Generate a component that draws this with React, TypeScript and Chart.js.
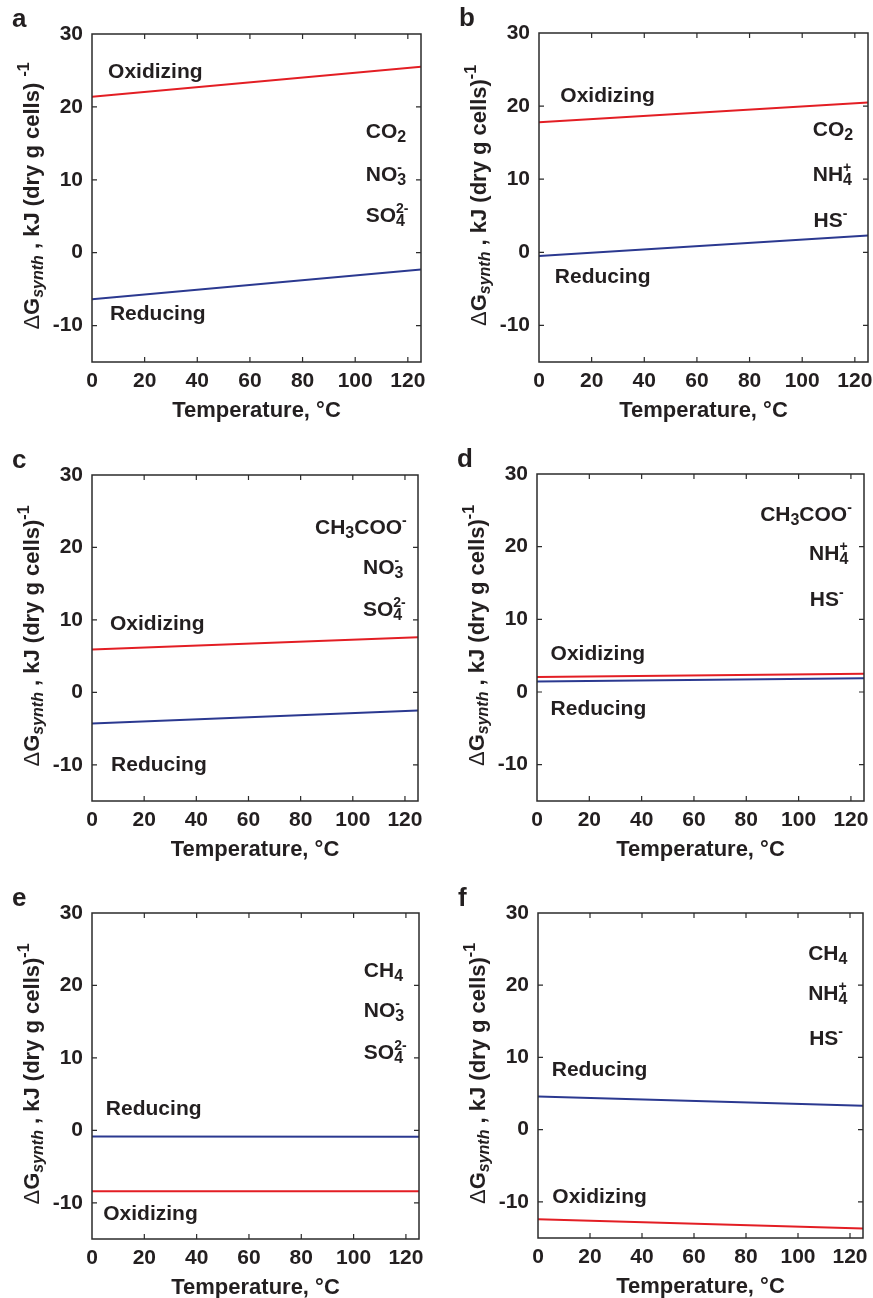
import React, { useEffect, useRef } from 'react';
import { Chart, registerables } from 'chart.js';

Chart.register(...registerables);

// ---------- data ----------
const temperature = [0, 125];
const xTickValues = [0, 20, 40, 60, 80, 100, 120];
const yTickValues = [-10, 0, 10, 20, 30];

const oxidizingA = [21.4, 25.5];
const reducingA = [-6.4, -2.3];
const oxidizingB = [17.8, 20.5];
const reducingB = [-0.5, 2.3];
const oxidizingC = [5.9, 7.6];
const reducingC = [-4.3, -2.5];
const oxidizingD = [2.05, 2.5];
const reducingD = [1.45, 1.9];
const oxidizingE = [-8.4, -8.4];
const reducingE = [-0.85, -0.9];
const oxidizingF = [-12.4, -13.7];
const reducingF = [4.6, 3.3];

// ---------- styles ----------
const FONT = '"Liberation Sans", Arial, Helvetica, sans-serif';
const TEXT = '#231f20';
const RED = '#e31e24';
const BLUE = '#2b3990';
const FRAME = '#2b2b2b';
const PAD_L = 92;
const PAD_T = 34;
const PAD_R = 12;
const PAD_B = 64;

type Part = { t?: string; sub?: string; sup?: string; light?: boolean; italicSub?: boolean };

const CO2: Part[] = [{ t: 'CO' }, { sub: '2' }];
const NO3: Part[] = [{ t: 'NO' }, { sub: '3', sup: '-' }];
const SO4: Part[] = [{ t: 'SO' }, { sub: '4', sup: '2-' }];
const NH4: Part[] = [{ t: 'NH' }, { sub: '4', sup: '+' }];
const HS: Part[] = [{ t: 'HS' }, { sup: '-' }];
const CH3COO: Part[] = [{ t: 'CH' }, { sub: '3' }, { t: 'COO' }, { sup: '-' }];
const CH4: Part[] = [{ t: 'CH' }, { sub: '4' }];

const yTitleSpaced: Part[] = [
  { t: '\u0394', light: true },
  { t: 'G' },
  { sub: 'synth', italicSub: true },
  { t: ' , kJ (dry g cells) ' },
  { sup: '-1' },
];
const yTitleTight: Part[] = [
  { t: '\u0394', light: true },
  { t: 'G' },
  { sub: 'synth', italicSub: true },
  { t: ' , kJ (dry g cells)' },
  { sup: '-1' },
];

type Label = { parts: Part[]; x: number; y: number };
type PanelCfg = {
  letter: string;
  rect: { l: number; t: number; r: number; b: number };
  ox: number[];
  red: number[];
  oxLabel: { x: number; y: number };
  redLabel: { x: number; y: number };
  chem: Label[];
  yTitle: Part[];
};

const panels: PanelCfg[] = [
  {
    letter: 'a', rect: { l: 92, t: 34, r: 421, b: 362 }, ox: oxidizingA, red: reducingA,
    oxLabel: { x: 6.1, y: 23.9 }, redLabel: { x: 6.8, y: -9.3 },
    chem: [{ parts: CO2, x: 104, y: 15.7 }, { parts: NO3, x: 104, y: 9.9 }, { parts: SO4, x: 104, y: 4.15 }],
    yTitle: yTitleSpaced,
  },
  {
    letter: 'b', rect: { l: 539, t: 33, r: 868, b: 362 }, ox: oxidizingB, red: reducingB,
    oxLabel: { x: 8.1, y: 20.5 }, redLabel: { x: 6.0, y: -4.2 },
    chem: [{ parts: CO2, x: 104, y: 15.9 }, { parts: NH4, x: 104, y: 9.7 }, { parts: HS, x: 104.3, y: 3.5 }],
    yTitle: yTitleTight,
  },
  {
    letter: 'c', rect: { l: 92, t: 475, r: 418, b: 801 }, ox: oxidizingC, red: reducingC,
    oxLabel: { x: 6.9, y: 8.6 }, redLabel: { x: 7.3, y: -10.9 },
    chem: [{ parts: CH3COO, x: 85.5, y: 21.8 }, { parts: NO3, x: 103.9, y: 16.3 }, { parts: SO4, x: 103.9, y: 10.5 }],
    yTitle: yTitleTight,
  },
  {
    letter: 'd', rect: { l: 537, t: 474, r: 864, b: 801 }, ox: oxidizingD, red: reducingD,
    oxLabel: { x: 5.2, y: 4.35 }, redLabel: { x: 5.2, y: -3.1 },
    chem: [{ parts: CH3COO, x: 85.3, y: 23.5 }, { parts: NH4, x: 104, y: 18.1 }, { parts: HS, x: 104.3, y: 11.9 }],
    yTitle: yTitleTight,
  },
  {
    letter: 'e', rect: { l: 92, t: 913, r: 419, b: 1239 }, ox: oxidizingE, red: reducingE,
    oxLabel: { x: 4.3, y: -12.4 }, redLabel: { x: 5.3, y: 2.16 },
    chem: [{ parts: CH4, x: 103.9, y: 21.2 }, { parts: NO3, x: 103.9, y: 15.6 }, { parts: SO4, x: 103.9, y: 9.9 }],
    yTitle: yTitleTight,
  },
  {
    letter: 'f', rect: { l: 538, t: 913, r: 863, b: 1238 }, ox: oxidizingF, red: reducingF,
    oxLabel: { x: 5.5, y: -10.2 }, redLabel: { x: 5.3, y: 7.5 },
    chem: [{ parts: CH4, x: 103.9, y: 23.5 }, { parts: NH4, x: 103.9, y: 17.9 }, { parts: HS, x: 104.3, y: 11.7 }],
    yTitle: yTitleTight,
  },
];

// ---------- rich text ----------
type RichSizes = { main: number; sub: number; sup: number; subOff: number; supOff: number };

function fontStr(size: number, bold: boolean, italic = false) {
  return `${italic ? 'italic ' : ''}${bold ? 'bold ' : ''}${size}px ${FONT}`;
}

function drawRich(
  ctx: CanvasRenderingContext2D,
  parts: Part[],
  x: number,
  y: number,
  align: 'left' | 'center' | 'right',
  s: RichSizes
) {
  const widths = parts.map((p) => {
    if (p.t !== undefined) {
      ctx.font = fontStr(s.main, !p.light);
      return ctx.measureText(p.t).width;
    }
    let w = 0;
    if (p.sub) {
      ctx.font = fontStr(s.sub, true, !!p.italicSub);
      w = Math.max(w, ctx.measureText(p.sub).width);
    }
    if (p.sup) {
      ctx.font = fontStr(s.sup, true);
      w = Math.max(w, ctx.measureText(p.sup).width);
    }
    return w;
  });
  const total = widths.reduce((a, b) => a + b, 0);
  let cx = align === 'left' ? x : align === 'right' ? x - total : x - total / 2;
  ctx.textAlign = 'left';
  ctx.textBaseline = 'alphabetic';
  ctx.fillStyle = TEXT;
  parts.forEach((p, i) => {
    if (p.t !== undefined) {
      ctx.font = fontStr(s.main, !p.light);
      ctx.fillText(p.t, cx, y);
    } else {
      if (p.sub) {
        ctx.font = fontStr(s.sub, true, !!p.italicSub);
        ctx.fillText(p.sub, cx, y + s.subOff);
      }
      if (p.sup) {
        ctx.font = fontStr(s.sup, true);
        ctx.fillText(p.sup, cx, y - s.supOff);
      }
    }
    cx += widths[i];
  });
}

function makePlugin(cfg: PanelCfg) {
  return {
    id: 'panelDecor' + cfg.letter,
    afterDraw(chart: any) {
      const ctx: CanvasRenderingContext2D = chart.ctx;
      const a = chart.chartArea;
      const xs = chart.scales.x;
      const ys = chart.scales.y;
      ctx.save();
      // frame
      ctx.strokeStyle = FRAME;
      ctx.lineWidth = 1.5;
      ctx.strokeRect(a.left, a.top, a.right - a.left, a.bottom - a.top);
      // inward ticks on all four sides
      const TL = 5;
      ctx.lineWidth = 1.2;
      ctx.beginPath();
      xTickValues.forEach((v) => {
        const px = xs.getPixelForValue(v);
        if (px <= a.left + 1 || px >= a.right - 1) return;
        ctx.moveTo(px, a.bottom);
        ctx.lineTo(px, a.bottom - TL);
        ctx.moveTo(px, a.top);
        ctx.lineTo(px, a.top + TL);
      });
      yTickValues.forEach((v) => {
        const py = ys.getPixelForValue(v);
        if (py <= a.top + 1 || py >= a.bottom - 1) return;
        ctx.moveTo(a.left, py);
        ctx.lineTo(a.left + TL, py);
        ctx.moveTo(a.right, py);
        ctx.lineTo(a.right - TL, py);
      });
      ctx.stroke();

      // Oxidizing / Reducing labels
      ctx.fillStyle = TEXT;
      ctx.font = fontStr(21, true);
      ctx.textAlign = 'left';
      ctx.textBaseline = 'alphabetic';
      ctx.fillText('Oxidizing', xs.getPixelForValue(cfg.oxLabel.x), ys.getPixelForValue(cfg.oxLabel.y));
      ctx.fillText('Reducing', xs.getPixelForValue(cfg.redLabel.x), ys.getPixelForValue(cfg.redLabel.y));

      // chemical species
      const chemSizes: RichSizes = { main: 21, sub: 16, sup: 14, subOff: 4, supOff: 9 };
      cfg.chem.forEach((c) => {
        drawRich(ctx, c.parts, xs.getPixelForValue(c.x), ys.getPixelForValue(c.y), 'left', chemSizes);
      });

      // x title
      ctx.fillStyle = TEXT;
      ctx.font = fontStr(22, true);
      ctx.textAlign = 'center';
      ctx.textBaseline = 'alphabetic';
      ctx.fillText('Temperature, \u00b0C', (a.left + a.right) / 2, a.bottom + 55);

      // y title (rotated)
      ctx.save();
      ctx.translate(a.left - 53, (a.top + a.bottom) / 2 - 2);
      ctx.rotate(-Math.PI / 2);
      drawRich(ctx, cfg.yTitle, 0, 0, 'center', { main: 22, sub: 16, sup: 16, subOff: 4, supOff: 10 });
      ctx.restore();

      // panel letter
      ctx.fillStyle = TEXT;
      ctx.font = fontStr(26, true);
      ctx.textAlign = 'left';
      ctx.textBaseline = 'alphabetic';
      ctx.fillText(cfg.letter, a.left - 80, a.top - 7);
      ctx.restore();
    },
  };
}

function Panel({ cfg }: { cfg: PanelCfg }) {
  const ref = useRef<HTMLCanvasElement>(null);
  const { l, t, r, b } = cfg.rect;
  const w = r - l + PAD_L + PAD_R;
  const h = b - t + PAD_T + PAD_B;

  useEffect(() => {
    if (!ref.current) return;
    const tickFont = { family: FONT, size: 21, weight: 'bold' as const };
    const chart = new Chart(ref.current, {
      type: 'line',
      data: {
        datasets: [
          {
            label: 'Oxidizing',
            data: temperature.map((x, i) => ({ x, y: cfg.ox[i] })),
            borderColor: RED,
            borderWidth: 2,
            pointRadius: 0,
            tension: 0,
            fill: false,
          },
          {
            label: 'Reducing',
            data: temperature.map((x, i) => ({ x, y: cfg.red[i] })),
            borderColor: BLUE,
            borderWidth: 2,
            pointRadius: 0,
            tension: 0,
            fill: false,
          },
        ],
      },
      options: {
        animation: false,
        responsive: false,
        devicePixelRatio: 1,
        layout: { padding: { left: 0, top: PAD_T, right: PAD_R, bottom: 0 } },
        plugins: { legend: { display: false }, tooltip: { enabled: false }, title: { display: false } },
        scales: {
          x: {
            type: 'linear',
            min: 0,
            max: 125,
            grid: { display: false, drawTicks: false },
            border: { display: false },
            afterBuildTicks: (s: any) => {
              s.ticks = xTickValues.map((v) => ({ value: v }));
            },
            afterFit: (s: any) => {
              s.height = PAD_B;
            },
            ticks: {
              font: tickFont,
              color: TEXT,
              padding: 7,
              autoSkip: false,
              maxRotation: 0,
              minRotation: 0,
            },
          },
          y: {
            type: 'linear',
            min: -15,
            max: 30,
            grid: { display: false, drawTicks: false },
            border: { display: false },
            afterBuildTicks: (s: any) => {
              s.ticks = yTickValues.map((v) => ({ value: v }));
            },
            afterFit: (s: any) => {
              s.width = PAD_L;
            },
            ticks: { font: tickFont, color: TEXT, padding: 9, autoSkip: false },
          },
        },
      } as any,
      plugins: [makePlugin(cfg)],
    });
    return () => chart.destroy();
  }, [cfg]);

  return (
    <canvas
      ref={ref}
      width={w}
      height={h}
      style={{ position: 'absolute', left: l - PAD_L, top: t - PAD_T, width: w, height: h }}
    />
  );
}

export default function App() {
  return (
    <div
      style={{
        position: 'absolute',
        left: 0,
        top: 0,
        width: 873,
        height: 1298,
        overflow: 'hidden',
        background: '#ffffff',
      }}
    >
      {panels.map((p) => (
        <Panel key={p.letter} cfg={p} />
      ))}
    </div>
  );
}
